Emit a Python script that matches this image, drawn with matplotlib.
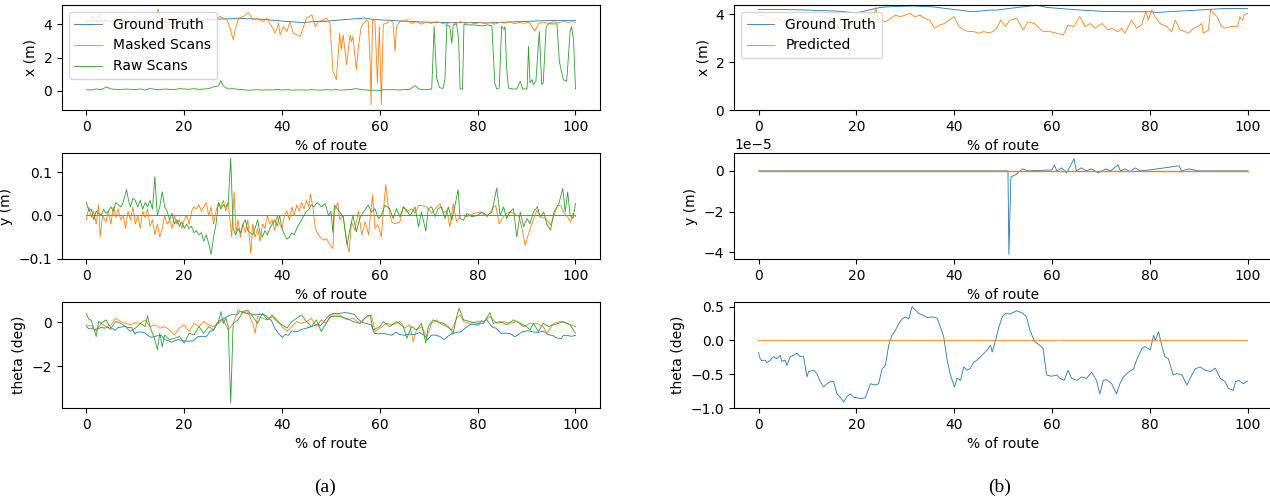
import numpy as np
import matplotlib
matplotlib.use('Agg')
import matplotlib.pyplot as plt

# ground truth (shared by both panels), % of route -> value
gt_x_pct = [0, 5, 10, 16.7, 20, 21.5, 24.9, 28, 31.7, 35.8, 40, 44, 47.3, 48.8, 51.4, 56.9,
            58.9, 64.4, 69.8, 74.6, 80, 81.4, 85.5, 91.7, 95, 100]
gt_x_val = [4.19, 4.19, 4.17, 4.12, 4.05, 4.12, 4.28, 4.32, 4.34, 4.30, 4.19, 4.10, 4.17, 4.17,
            4.24, 4.37, 4.28, 4.19, 4.12, 4.10, 4.10, 4.07, 4.12, 4.19, 4.23, 4.23]

gt_th_pct = [0, 0.34, 0.68, 1.37, 1.71, 2.39, 3.07, 3.75, 4.44, 4.78, 5.46, 5.8, 6.48, 7.17, 7.85,
             8.53, 9.22, 9.9, 10.24, 11.26, 11.95, 12.63, 13.31, 13.99, 14.68, 15.36, 16.04,
             16.72, 17.41, 18.09, 18.77, 19.45, 20.14, 20.82, 21.84, 22.87, 23.89, 24.57, 25.26,
             25.94, 26.62, 27.3, 27.99, 28.67, 29.35, 30.03, 30.72, 31.4, 32.08, 32.76, 33.45,
             34.47, 35.49, 36.52, 37.54, 37.88, 38.57, 39.25, 40.07, 40.61, 41.3, 41.98, 42.66,
             43.34, 44.03, 44.71, 45.39, 46.08, 46.76, 47.44, 47.78, 48.46, 49.15, 49.83, 50.51,
             51.4, 52.8, 54.1, 54.8, 55.5, 56.5, 57.5, 58.2, 58.9, 59.9, 61.0, 61.6, 62.5, 63.3,
             64.0, 65.1, 66.1, 67.1, 68.1, 69.1, 69.8, 70.5, 71.2, 72.2, 73.2, 73.9, 74.6, 75.6,
             76.7, 77.3, 78.4, 79.0, 80.1, 80.8, 81.1, 81.8, 82.5, 83.1, 83.8, 84.8, 85.5, 86.6,
             87.6, 88.6, 89.3, 90.3, 91.3, 92.4, 93.4, 94.4, 95.4, 96.1, 97.1, 97.5, 98.2, 98.5,
             99.2, 100]
gt_th_val = [-0.18, -0.27, -0.30, -0.29, -0.33, -0.29, -0.24, -0.27, -0.22, -0.31, -0.29, -0.37,
             -0.24, -0.22, -0.19, -0.24, -0.24, -0.54, -0.46, -0.44, -0.49, -0.61, -0.69, -0.64,
             -0.61, -0.61, -0.79, -0.84, -0.91, -0.83, -0.79, -0.84, -0.85, -0.86, -0.85, -0.64,
             -0.66, -0.64, -0.42, -0.37, -0.07, 0.08, 0.15, 0.25, 0.32, 0.35, 0.32, 0.50, 0.45,
             0.40, 0.38, 0.34, 0.35, 0.33, 0.13, 0.05, -0.29, -0.51, -0.69, -0.56, -0.59, -0.39,
             -0.44, -0.41, -0.32, -0.29, -0.24, -0.19, -0.14, -0.07, -0.17, 0.0, 0.20, 0.35, 0.40,
             0.39, 0.44, 0.40, 0.35, 0.15, -0.02, -0.07, -0.12, -0.51, -0.53, -0.51, -0.56, -0.59,
             -0.44, -0.56, -0.59, -0.54, -0.56, -0.47, -0.59, -0.79, -0.59, -0.58, -0.64, -0.79,
             -0.64, -0.54, -0.47, -0.42, -0.29, -0.12, -0.09, -0.14, 0.08, 0.0, 0.13, -0.09,
             -0.24, -0.27, -0.51, -0.49, -0.51, -0.66, -0.51, -0.42, -0.39, -0.44, -0.46, -0.41,
             -0.56, -0.61, -0.71, -0.74, -0.61, -0.59, -0.61, -0.64, -0.60]

gt_y_pct = [0, 51.0, 51.2, 51.6, 52.5, 54, 55, 60, 60.5, 61, 62, 63, 64.5, 65, 66, 67, 68, 69.5,
            71, 72, 73.5, 74, 75, 76, 77, 78, 80, 86, 86.5, 88, 90, 100]
gt_y_val = [0, 0, -4.1e-5, -0.3e-5, -0.2e-5, 0.1e-5, 0, 0.05e-5, 0.3e-5, 0, 0.15e-5, -0.1e-5,
            0.6e-5, 0, 0.15e-5, 0, 0.1e-5, -0.1e-5, 0.1e-5, 0, 0.3e-5, 0, 0.1e-5, -0.05e-5,
            0.15e-5, 0, 0.05e-5, 0.25e-5, 0, 0.1e-5, 0, 0]

# (a) masked scans
mask_x_pct = [0, 0.7, 1.3, 2, 2.7, 3.4, 4, 5, 6, 7, 8, 9, 10, 11, 12, 13, 14, 14.7, 15.3, 16, 17,
              18, 19, 20, 20.5, 21.8, 23.2, 24.6, 25.9, 27.3, 28.7, 29.4, 30.0, 30.4, 31.1, 32.1,
              33.1, 34.1, 34.8, 36.2, 36.9, 37.9, 38.6, 39.3, 39.6, 40.3, 41.0, 41.6, 42.3, 43.7,
              44.4, 45.0, 46.1, 46.8, 47.5, 48.4, 49.1, 49.8, 50.4, 51.1, 51.8, 52.1, 52.5, 53.2,
              53.9, 54.2, 54.5, 55.2, 55.6, 56.2, 57.3, 57.6, 58.0, 58.2, 58.5, 59.0, 59.5, 59.9,
              60.3, 60.7, 61.4, 62.0, 62.7, 63.1, 63.4, 64.1, 65.5, 66.5, 67.5, 68.5, 69.5, 70.5,
              71.5, 72.5, 73.5, 74.5, 75.5, 76.5, 77.5, 78.5, 79.5, 80.5, 81.5, 82.5, 83.5, 84.5,
              85.5, 86.5, 87.5, 88.5, 89.5, 90.5, 91.7, 92.5, 93.5, 94.5, 95.5, 96.5, 97.5, 98.5,
              99.3, 100]
mask_x_val = [4.3, 3.7, 4.5, 4.1, 4.6, 4.0, 4.3, 4.1, 4.4, 4.0, 4.3, 4.2, 4.5, 4.1, 4.3, 4.0, 4.4,
              4.9, 4.1, 4.3, 3.9, 4.3, 4.1, 4.35, 4.22, 4.26, 4.16, 4.36, 4.22, 4.46, 4.26, 3.76,
              3.06, 3.66, 4.36, 4.46, 4.70, 4.26, 4.36, 4.16, 4.36, 3.86, 3.46, 4.06, 3.36, 3.86,
              3.56, 4.16, 3.46, 3.26, 3.86, 4.36, 4.56, 3.86, 4.16, 4.26, 4.36, 4.06, 1.17, 0.68,
              3.46, 2.47, 3.36, 1.57, 3.36, 2.96, 3.26, 1.27, 2.67, 3.86, 4.26, 4.22, 1.87, -0.82,
              4.26, 4.16, 0.48, 3.86, -0.82, 4.0, 4.06, 4.26, 4.1, 2.37, 3.86, 4.16, 4.26, 4.05,
              4.15, 4.0, 4.12, 4.05, 4.15, 4.08, 4.0, 4.12, 4.05, 4.15, 4.06, 4.1, 4.02, 4.12, 4.05,
              4.1, 4.0, 4.12, 4.06, 4.14, 4.04, 4.1, 4.06, 4.12, 3.6, 4.05, 4.12, 4.05, 4.15, 4.08,
              4.18, 4.1, 4.15, 4.12]

raw_x_pct = [0, 1, 2, 3, 4.1, 5, 6, 7, 8, 9, 10, 11, 12, 13, 14, 15, 16, 17, 18, 19, 20, 21, 22,
             23, 24, 25, 26, 27, 27.5, 28, 28.5, 29, 30, 31, 32, 33, 34, 35, 36, 37, 38, 39, 40, 41,
             42, 43, 44, 45, 46, 47, 48, 49, 50, 51, 52, 53, 54, 55, 56, 57, 58, 59, 60, 61, 62, 63,
             64, 65, 66, 67.2, 68, 69, 70, 70.6, 71.1, 71.6, 72.2, 72.9, 73.3, 73.7, 74.3, 74.7,
             75.0, 75.7, 76.1, 76.4, 76.9, 77.2, 77.7, 79, 80, 81, 82, 82.9, 83.5, 83.9, 84.4,
             84.9, 85.4, 85.6, 85.9, 86.3, 87, 88, 88.7, 89.2, 90.1, 90.4, 90.7, 91.1, 91.4, 91.9,
             92.6, 93.1, 93.4, 94.0, 94.5, 96.2, 96.7, 97.5, 98.2, 98.9, 99.2, 99.6, 100]
raw_x_val = [0.08, 0.06, 0.12, 0.08, 0.24, 0.12, 0.1, 0.08, 0.12, 0.1, 0.09, 0.12, 0.05, 0.15, 0.1,
             0.08, 0.12, 0.1, 0.08, 0.14, 0.12, 0.1, 0.14, 0.1, 0.12, 0.14, 0.25, 0.3, 0.62, 0.3,
             0.2, 0.12, 0.14, 0.1, 0.08, 0.04, 0.06, 0.08, 0.05, 0.07, 0.06, 0.1, 0.06, 0.08, 0.05,
             0.06, 0.07, 0.05, 0.08, 0.06, 0.05, 0.08, 0.06, 0.08, 0.05, 0.07, 0.09, 0.14, 0.1,
             0.06, 0.04, 0.05, 0.03, 0.08, 0.07, 0.08, 0.06, 0.09, 0.08, 0.32, 0.12, 0.08, 0.1,
             0.12, 3.86, 0.78, 0.2, 0.15, 0.68, 3.96, 3.86, 2.87, 3.96, 4.02, 3.06, 0.12, 0.12,
             4.02, 3.96, 3.96, 3.93, 3.9, 3.96, 3.9, 0.48, 0.12, 0.18, 3.86, 3.7, 3.86, 1.47, 0.18,
             0.12, 0.12, 0.58, 0.12, 0.12, 2.67, 0.48, 0.68, 0.38, 0.58, 3.56, 0.38, 0.48, 3.86,
             4.02, 4.02, 1.77, 0.68, 0.58, 3.56, 3.86, 3.06, 0.12]

mask_y_pct = [0, 0.5, 1, 1.5, 2, 2.5, 2.8, 3.3, 4, 4.5, 5, 5.5, 6, 6.5, 7, 7.5, 8, 8.5, 9, 9.5,
              10, 10.5, 11, 11.5, 12, 12.5, 13, 13.5, 14, 14.5, 15, 15.5, 16, 16.5, 17, 17.5, 18,
              18.5, 19, 19.5, 20, 20.5, 21, 21.5, 22, 22.5, 23, 23.5, 24, 24.5, 25, 25.5, 26, 26.5,
              27, 27.5, 28, 28.5, 29, 29.7, 30.2, 30.6, 31, 31.5, 32, 32.5, 33, 33.6, 34, 34.5, 35,
              35.5, 36, 36.5, 37, 37.5, 38, 38.5, 39, 39.5, 40, 40.5, 41, 41.5, 42, 42.5, 43, 43.5,
              44, 44.5, 45, 45.5, 45.8, 46.3, 46.8, 47.2, 47.8, 48.4, 49.1, 49.8, 50.4, 50.7, 51.4,
              51.8, 52.5, 53.2, 53.7, 54.2, 54.9, 55.6, 56.3, 57.0, 57.7, 58.0, 58.5, 59.0, 59.6,
              60.3, 60.7, 61.2, 61.7, 62.4, 63.1, 64.1, 64.8, 65.5, 66.5, 67.2, 67.9, 68.5, 69.6,
              70.6, 71.3, 72.3, 73.0, 73.7, 74.3, 75.0, 75.7, 76.4, 77.1, 77.8, 79.2, 80.6, 82.0,
              83.0, 83.7, 84.4, 85.4, 86.4, 87.5, 88.5, 89.2, 89.7, 90.4, 91.1, 92.1, 92.8, 93.9,
              94.9, 95.6, 96.3, 97.0, 97.7, 98.4, 99.0, 99.5, 100]
mask_y_val = [-0.01, 0.02, -0.005, 0.01, -0.02, 0.025, -0.05, 0.0, -0.015, 0.01, -0.02, 0.02,
              -0.005, 0.015, -0.01, 0.0, -0.03, 0.01, -0.01, 0.02, -0.02, 0.0, -0.03, 0.01, -0.005,
              0.015, -0.025, -0.01, -0.045, -0.02, -0.05, -0.03, 0.0, -0.02, -0.01, -0.03, 0.0,
              -0.02, -0.01, -0.03, -0.01, 0.0, -0.02, 0.01, 0.02, 0.015, 0.025, 0.01, 0.02, 0.03,
              0.0, 0.02, -0.02, 0.01, 0.03, 0.02, 0.035, 0.01, 0.03, -0.05, 0.055, -0.04, -0.01,
              -0.05, -0.02, -0.04, -0.01, -0.088, -0.02, -0.05, -0.03, -0.06, -0.02, -0.03, 0.0,
              -0.02, -0.01, -0.035, 0.0, -0.02, -0.03, 0.0, 0.01, -0.01, 0.02, 0.0, 0.025, 0.01,
              0.03, 0.015, 0.035, 0.02, 0.05, 0.02, -0.03, -0.04, -0.05, -0.057, -0.054, -0.069,
              -0.077, 0.01, 0.03, -0.01, 0.0, -0.06, -0.085, -0.015, -0.035, 0.01, -0.045, -0.015,
              -0.045, -0.007, 0.047, -0.03, -0.022, -0.05, 0.008, 0.072, 0.023, -0.015, -0.019,
              -0.015, 0.02, 0.008, 0.016, 0.005, 0.023, 0.023, 0.02, 0.005, 0.016, 0.027, 0.005,
              0.012, -0.026, 0.027, -0.015, 0.0, 0.0, -0.003, 0.005, 0.008, -0.003, 0.016, 0.023,
              -0.019, 0.0, 0.008, 0.005, -0.003, -0.038, -0.069, -0.042, -0.019, 0.012, -0.003,
              -0.007, -0.022, 0.0, 0.023, 0.023, 0.005, -0.003, -0.015, 0.005, -0.003]

raw_y_pct = [0, 0.5, 1, 1.5, 2, 2.5, 3, 3.5, 4, 4.5, 5, 5.5, 6, 6.5, 7, 7.5, 8.2, 8.7, 9, 9.5, 10,
             10.5, 11, 11.5, 12, 12.5, 13, 13.5, 14, 14.5, 15, 15.5, 16, 16.5, 17, 17.5, 18, 18.5,
             19, 19.5, 20, 20.5, 21, 21.5, 22, 22.5, 23, 23.5, 24, 24.5, 25, 25.5, 26, 26.5, 27,
             27.5, 28, 28.5, 29, 29.5, 30, 30.5, 31, 31.5, 32, 32.5, 33, 33.5, 34, 34.5, 35, 35.5,
             36, 36.5, 37, 37.5, 38, 38.5, 39, 39.5, 40, 40.5, 41, 41.5, 42, 42.5, 43, 43.5, 44,
             44.5, 45, 45.5, 46, 46.5, 47.2, 48.1, 48.8, 49.5, 50.0, 50.4, 50.7, 51.8, 52.5, 53.3,
             53.9, 54.5, 55.2, 55.9, 56.6, 57.6, 58.3, 59.0, 59.7, 60.3, 61.0, 62.0, 62.7, 63.4,
             64.1, 64.8, 65.5, 66.2, 67.2, 67.9, 68.5, 69.4, 69.9, 70.6, 71.3, 71.9, 72.6, 73.3,
             74.0, 74.7, 75.3, 76.0, 76.4, 77.1, 77.8, 78.8, 79.9, 80.9, 81.9, 82.9, 83.9, 84.6,
             85.3, 85.9, 86.6, 87.3, 88.0, 88.7, 89.4, 90.1, 90.7, 91.4, 92.2, 92.8, 93.5, 94.2,
             94.9, 95.6, 96.6, 97.4, 97.9, 98.4, 98.9, 99.5, 100]
raw_y_val = [0.03, 0.01, 0.015, -0.01, 0.01, 0.005, 0.0, 0.015, 0.005, 0.01, 0.02, 0.01, 0.03,
             0.025, 0.02, 0.03, 0.06, 0.03, 0.02, 0.04, 0.035, 0.02, 0.035, 0.015, 0.03, 0.02,
             0.035, 0.015, 0.09, 0.0, 0.02, 0.055, 0.02, 0.01, -0.01, 0.005, -0.02, -0.01, -0.025,
             -0.015, -0.03, -0.02, -0.03, -0.025, -0.04, -0.035, -0.045, -0.04, -0.06, -0.045,
             -0.065, -0.09, -0.05, -0.02, 0.03, 0.015, 0.025, 0.02, 0.03, 0.133, -0.03, -0.045,
             -0.03, -0.04, -0.02, -0.01, -0.035, -0.04, -0.045, -0.03, -0.01, -0.04, -0.05, -0.035,
             -0.045, -0.03, -0.02, -0.01, -0.025, 0.0, -0.03, -0.045, -0.055, -0.05, -0.04, -0.045,
             -0.03, -0.02, -0.01, 0.0, 0.01, 0.015, 0.025, 0.02, 0.03, 0.02, 0.028, 0.0, 0.01,
             -0.04, 0.024, 0.008, -0.003, -0.069, -0.03, 0.0, -0.038, -0.007, 0.008, 0.024, 0.008,
             0.016, -0.007, 0.0, 0.024, 0.016, -0.007, 0.016, -0.003, 0.02, 0.012, 0.0, 0.02,
             -0.026, 0.008, -0.036, 0.016, 0.02, -0.003, 0.016, 0.02, -0.007, 0.02, -0.011, 0.02,
             0.06, -0.007, -0.011, 0.005, -0.003, 0.0, 0.008, 0.0, 0.008, 0.064, 0.0, 0.02, -0.007,
             0.008, 0.016, -0.05, 0.008, -0.026, -0.007, -0.019, 0.008, 0.02, -0.003, 0.008,
             -0.022, -0.034, 0.008, 0.028, 0.063, 0.008, 0.055, 0.0, -0.007, 0.028]

mask_th_pct = [0, 1, 2, 3, 4, 5, 6, 7, 8, 9, 10, 11, 12, 13, 14, 15, 16, 17, 18, 19, 20, 21, 22,
               23, 24, 25, 26, 27, 28, 29, 30, 31, 32, 33, 34, 34.5, 35, 36, 37, 38, 39, 40, 41,
               42, 43, 44, 45, 46, 47, 48, 49, 50, 51.8, 53.2, 54.5, 55.9, 57.3, 58.3, 59.0, 60,
               61.4, 62.7, 64.1, 65.1, 66.1, 66.8, 67.5, 68.5, 69.6, 70.6, 71.6, 72.3, 73.7, 74.7,
               75.7, 76.4, 77.1, 78.4, 79.8, 81.2, 82.5, 83.9, 85.3, 86.6, 88.0, 89.4, 90.7, 92.1,
               93.4, 94.1, 95.5, 96.9, 98.2, 100]
mask_th_val = [-0.12, -0.17, -0.42, -0.05, -0.2, -0.12, 0.18, 0.03, -0.05, -0.12, -0.02, -0.05,
               0.11, -0.2, -0.12, -0.27, -0.2, -0.35, -0.58, -0.27, -0.12, -0.42, -0.05, -0.2, 0.03,
               -0.12, -0.2, -0.05, 0.11, -0.35, -0.05, 0.56, 0.41, 0.48, -0.05, -0.5, 0.26, 0.18,
               0.11, 0.33, 0.11, -0.2, -0.42, -0.2, 0.03, -0.05, 0.03, 0.18, -0.2, 0.11, -0.05, 0.33,
               0.33, 0.11, 0.18, -0.05, 0.26, 0.33, -0.42, -0.27, -0.05, -0.12, 0.03, -0.27, -0.12,
               -0.88, -0.35, -0.2, -0.65, -0.05, 0.11, -0.05, -0.2, -0.35, 0.18, 0.33, 0.03, -0.05,
               0.03, 0.03, 0.26, -0.05, 0.03, -0.05, 0.03, -0.2, -0.05, -0.05, -0.2, -0.5, -0.05,
               0.03, -0.05, -0.2]

raw_th_pct = [0, 0.5, 1, 2, 2.5, 3, 4, 5, 6, 7, 8, 9, 10, 11, 12, 12.5, 13, 14, 14.5, 15, 15.5,
              16, 17, 18, 19, 20, 21, 22, 23, 24, 25, 26, 27, 27.5, 28, 28.5, 29, 29.5, 30, 31, 32,
              33, 34, 35, 36, 37, 38, 39, 40, 41, 42, 43, 44, 45, 46, 47, 48, 49, 50, 51.8, 53.2,
              54.5, 55.9, 57.3, 58.0, 58.6, 60, 60.7, 62.0, 63.4, 64.8, 65.5, 66.5, 67.5, 68.5,
              69.4, 69.9, 70.9, 71.6, 73.0, 74.0, 75.0, 75.7, 76.2, 77.1, 78.4, 79.8, 81.2, 82.5,
              83.2, 84.6, 86.0, 87.3, 88.7, 90.0, 90.7, 91.4, 92.4, 93.4, 94.5, 95.5, 96.5, 97.5,
              98.9, 100]
raw_th_val = [0.38, 0.14, 0.08, -0.65, 0.03, -0.05, 0.11, -0.27, 0.03, -0.05, -0.2, -0.42, -0.27,
              -0.05, -0.2, 0.29, -0.2, -0.8, -1.26, -0.5, -1.11, -0.58, -0.8, -0.73, -0.65, -0.95,
              -0.5, -0.58, -0.2, -0.5, -0.2, -0.35, 0.03, 0.48, -0.05, 0.18, -0.2, -3.68, -0.05,
              0.11, 0.48, 0.56, 0.26, -0.05, 0.41, 0.11, 0.26, 0.03, -0.12, -0.27, 0.03, 0.18, 0.33,
              0.03, -0.2, 0.11, -0.42, -0.05, 0.26, 0.26, 0.18, 0.03, -0.05, 0.26, 0.33, -0.35,
              -0.2, 0.03, -0.2, 0.03, -0.2, -0.73, -0.2, -0.35, -0.05, -0.95, -0.2, 0.11, 0.03,
              -0.05, -0.2, -0.5, 0.26, 0.64, 0.11, 0.03, -0.05, -0.05, 0.44, -0.05, 0.03, -0.12,
              0.11, -0.05, -0.2, -0.35, -0.05, -0.42, -0.05, -0.2, -0.12, -0.05, 0.03, -0.12, -0.5]

# (b) predicted
pred_x_pct = [0, 1, 2, 3, 4, 5, 6, 7, 8, 9, 10, 11, 12, 13, 14, 15, 16, 17, 18, 19, 20, 21, 22, 23,
              23.5, 24, 24.5, 25, 26, 27, 28, 29, 30, 31, 32, 33, 34, 35, 36, 37, 38, 39, 40, 41,
              42, 43, 44, 45, 46, 47, 48, 48.7, 49.5, 50.5, 51.4, 52.8, 54.1, 55.1, 56.4, 58.2,
              59.6, 61, 62.3, 63.3, 64.4, 65.7, 66.8, 67.8, 68.8, 70.2, 71.5, 72.2, 73.5, 74.2,
              74.9, 76.3, 77.3, 78.3, 79.2, 79.7, 80.4, 81.1, 82.1, 83.5, 84.5, 85.2, 86.2, 87.2,
              87.9, 88.9, 89.9, 90.6, 91.0, 92.0, 92.4, 93.8, 94.5, 95.2, 96.6, 98.0, 98.4, 99.0,
              99.3, 100]
pred_x_val = [3.92, 3.96, 3.82, 3.75, 3.82, 3.68, 3.75, 3.61, 3.75, 3.68, 3.61, 3.68, 3.54, 3.48,
              3.61, 3.41, 3.54, 3.27, 3.48, 3.61, 3.68, 3.82, 3.89, 4.03, 3.82, 4.28, 3.68, 3.75,
              3.68, 3.82, 3.96, 3.89, 3.96, 4.03, 3.89, 3.96, 3.82, 3.75, 3.41, 3.54, 3.61, 3.75,
              3.89, 3.48, 3.34, 3.27, 3.27, 3.2, 3.27, 3.23, 3.27, 3.41, 3.75, 3.48, 3.75, 3.82,
              3.34, 3.68, 3.61, 3.27, 3.27, 3.2, 3.13, 3.54, 3.48, 3.89, 3.48, 3.61, 3.41, 3.61,
              3.34, 3.41, 3.27, 3.41, 3.2, 3.75, 3.41, 3.54, 4.1, 3.75, 4.17, 3.89, 3.61, 3.48,
              3.27, 3.75, 3.34, 3.27, 3.2, 3.41, 3.48, 3.61, 3.2, 3.34, 4.17, 3.89, 3.54, 3.41,
              3.48, 3.48, 3.89, 3.75, 3.96, 4.03]
pred_y_pct = [0, 100]
pred_y_val = [0.0, 0.0]
pred_th_pct = [0, 60.5, 61.5, 62.5, 100]
pred_th_val = [0.0, 0.0, 0.005, 0.0, 0.0]

lw = 0.6
fig = plt.figure(figsize=(12.7, 5.01), dpi=100)

col_left = [0.0488, 0.578]
w = 0.4236
rows = [(0.7804, 0.2096), (0.483, 0.2116), (0.1856, 0.2116)]

# ---- (a)
ax = fig.add_axes([col_left[0], rows[0][0], w, rows[0][1]])
ax.plot(gt_x_pct, gt_x_val, lw=lw, label='Ground Truth')
ax.plot(mask_x_pct, mask_x_val, lw=lw, label='Masked Scans')
ax.plot(raw_x_pct, raw_x_val, lw=lw, label='Raw Scans')
ax.set_ylim(-1.14, 5.15)
ax.set_yticks([0, 2, 4])
ax.set_xlabel('% of route')
ax.set_ylabel('x (m)')
ax.legend(loc='upper left')

ax = fig.add_axes([col_left[0], rows[1][0], w, rows[1][1]])
ax.plot([0, 100], [0, 0], lw=lw)
ax.plot(mask_y_pct, mask_y_val, lw=lw)
ax.plot(raw_y_pct, raw_y_val, lw=lw)
ax.set_ylim(-0.101, 0.145)
ax.set_xlabel('% of route')
ax.set_ylabel('y (m)')

ax = fig.add_axes([col_left[0], rows[2][0], w, rows[2][1]])
ax.plot(gt_th_pct, gt_th_val, lw=lw)
ax.plot(mask_th_pct, mask_th_val, lw=lw)
ax.plot(raw_th_pct, raw_th_val, lw=lw)
ax.set_ylim(-3.9, 0.92)
ax.set_xlabel('% of route')
ax.set_ylabel('theta (deg)')

# ---- (b)
ax = fig.add_axes([col_left[1], rows[0][0], w, rows[0][1]])
ax.plot(gt_x_pct, gt_x_val, lw=lw, label='Ground Truth')
ax.plot(pred_x_pct, pred_x_val, lw=lw, label='Predicted')
ax.set_ylim(0, 4.38)
ax.set_xlabel('% of route')
ax.set_ylabel('x (m)')
ax.legend(loc='upper left')

ax = fig.add_axes([col_left[1], rows[1][0], w, rows[1][1]])
ax.plot(gt_y_pct, gt_y_val, lw=lw)
ax.plot(pred_y_pct, pred_y_val, lw=1.0)
ax.set_ylim(-4.33e-5, 0.88e-5)
ax.set_xlabel('% of route')
ax.set_ylabel('y (m)')

ax = fig.add_axes([col_left[1], rows[2][0], w, rows[2][1]])
ax.plot(gt_th_pct, gt_th_val, lw=lw)
ax.plot(pred_th_pct, pred_th_val, lw=lw)
ax.set_ylim(-1.0, 0.57)
ax.set_yticks([-1.0, -0.5, 0.0, 0.5])
ax.set_xlabel('% of route')
ax.set_ylabel('theta (deg)')

fig.text(0.256, 0.028, '(a)', fontsize=14, family='Liberation Serif', ha='center', va='center')
fig.text(0.787, 0.028, '(b)', fontsize=14, family='Liberation Serif', ha='center', va='center')

fig.savefig('out.png', dpi=100)
